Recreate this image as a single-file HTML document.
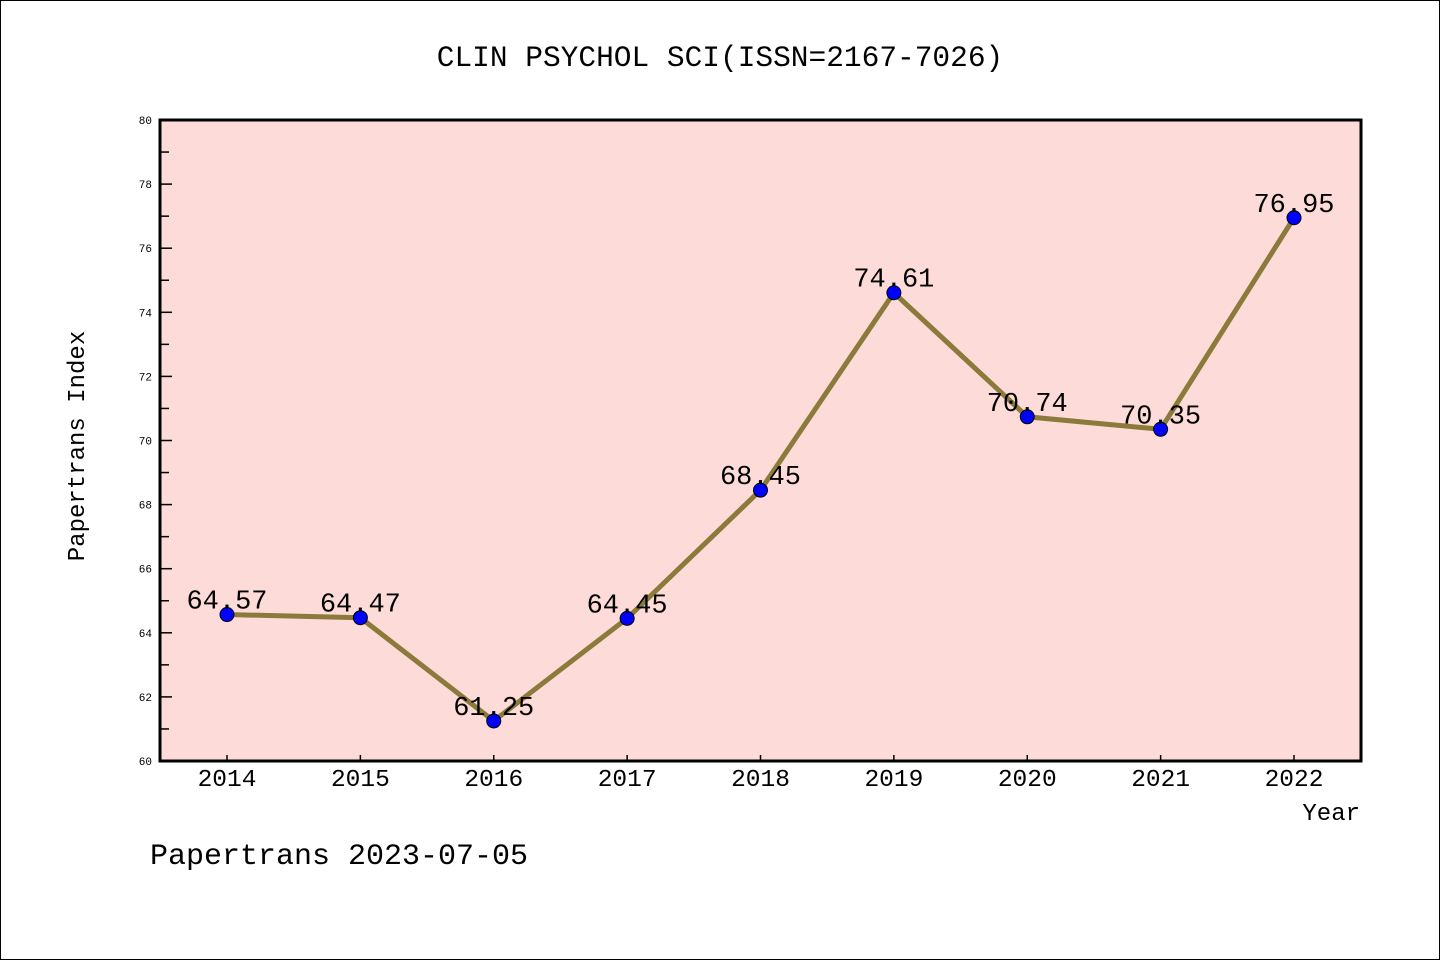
<!DOCTYPE html>
<html><head><meta charset="utf-8"><style>
body{margin:0;background:#fff}
svg{display:block}
text{font-family:"Liberation Mono","DejaVu Sans Mono",monospace}
</style></head><body>
<svg id="c" width="1440" height="960">
<rect x="0.5" y="0.5" width="1439" height="959" fill="#fff" stroke="#000"/>
<text x="720" y="66" text-anchor="middle" font-size="29.5">CLIN PSYCHOL SCI(ISSN=2167-7026)</text>
<rect x="160" y="120" width="1201" height="641" fill="#fddbd8"/>
<g id="ticks"></g>
<g id="series"></g>
<rect x="160" y="120" width="1201" height="641" fill="none" stroke="#000" stroke-width="3"/>
<text transform="translate(84,446) rotate(-90)" text-anchor="middle" font-size="24">Papertrans Index</text>
<text x="1360" y="820" text-anchor="end" font-size="24">Year</text>
<text x="150" y="864" font-size="30">Papertrans 2023-07-05</text>
</svg>
<script>
const years=[2014,2015,2016,2017,2018,2019,2020,2021,2022];
const values=[64.57,64.47,61.25,64.45,68.45,74.61,70.74,70.35,76.95];
const labels=["64.57","64.47","61.25","64.45","68.45","74.61","70.74","70.35","76.95"];
const yTicks=[60,62,64,66,68,70,72,74,76,78,80];
const NS="http://www.w3.org/2000/svg";
function X(yr){return 227+(yr-2014)*(1294-227)/8;}
function Y(v){return 761-(v-60)*641/20;}
function mk(t,a,p){const e=document.createElementNS(NS,t);for(const k in a)e.setAttribute(k,a[k]);p.appendChild(e);return e;}
const tg=document.getElementById('ticks');
yTicks.forEach(v=>{
  const l=mk('line',{x1:160,x2:172,y1:Y(v),y2:Y(v),stroke:'#000','stroke-width':1.5},tg);
  
  
  const t=mk('text',{x:152,y:Y(v)+4,'text-anchor':'end','font-size':11,'font-family':'"Liberation Sans",sans-serif'},tg);t.textContent=v;
  
  
  if(v<80){const m=mk('line',{x1:160,x2:169,y1:Y(v+1),y2:Y(v+1),stroke:'#000','stroke-width':1.5},tg);
  
  }
});
years.forEach(yr=>{
  const l=mk('line',{x1:X(yr),x2:X(yr),y1:761,y2:755,stroke:'#000','stroke-width':1.5},tg);
  
  
  const t=mk('text',{x:X(yr),y:786,'text-anchor':'middle','font-size':24.5},tg);t.textContent=yr;
  
  
});
const sg=document.getElementById('series');
const pl=mk('polyline',{points:years.map((yr,i)=>X(yr)+','+Y(values[i])).join(' '),fill:'none',stroke:'#8b7a3a','stroke-width':5},sg);


years.forEach((yr,i)=>{
  const c=mk('circle',{cx:X(yr),cy:Y(values[i]),r:7,fill:'#0000ff',stroke:'#000','stroke-width':1},sg);
  
  
  const t=mk('text',{x:X(yr),y:Y(values[i])-6,'text-anchor':'middle','font-size':27},sg);t.textContent=labels[i];
  
  
});
</script>
</body></html>
